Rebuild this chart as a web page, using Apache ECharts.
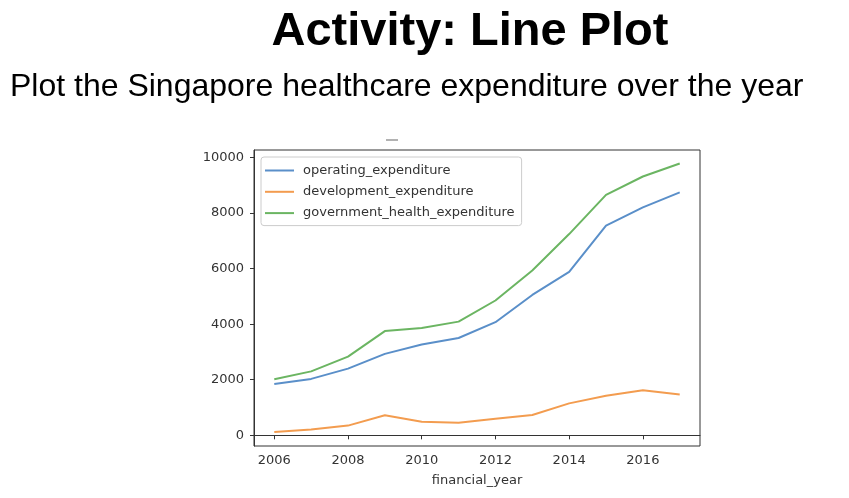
<!DOCTYPE html>
<html>
<head>
<meta charset="utf-8">
<script src="https://cdn.jsdelivr.net/npm/echarts@6/dist/echarts.min.js"></script>
<style>
  html, body { margin: 0; padding: 0; background: #fff; }
  #main { width: 849px; height: 498px; }
</style>
</head>
<body>
<div id="main"></div>
<script>
const years = [2006, 2007, 2008, 2009, 2010, 2011, 2012, 2013, 2014, 2015, 2016, 2017]
const operatingExpenditure = [1850, 2030, 2400, 2930, 3270, 3500, 4070, 5050, 5880, 7540, 8200, 8740]
const developmentExpenditure = [120, 210, 350, 720, 490, 450, 600, 730, 1150, 1420, 1620, 1470]
const governmentHealthExpenditure = [2020, 2300, 2830, 3750, 3860, 4090, 4850, 5930, 7240, 8650, 9310, 9780]
const xTicks = [2006, 2008, 2010, 2012, 2014, 2016]
const yTicks = [0, 2000, 4000, 6000, 8000, 10000]
const seriesNames = ['operating_expenditure', 'development_expenditure', 'government_health_expenditure']
const colors = ['#5a8fc9', '#f39c4f', '#6bb562']

const chart = echarts.init(document.getElementById('main'), null, { renderer: 'canvas' })

const toPoints = values => values.map((v, i) => [years[i], v])
const tickFont = { color: '#333', fontSize: 13, fontFamily: 'DejaVu Sans' }
// plain numbers, no thousands separator
const plain = v => String(v)

const option = {
  animation: false,
  color: colors,
  title: [{
    text: 'Activity: Line Plot',
    left: 465,
    top: 4,
    textAlign: 'center',
    textStyle: { fontFamily: 'Liberation Sans', fontWeight: 'bold', fontSize: 47, color: '#000' }
  }, {
    text: 'Plot the Singapore healthcare expenditure over the year',
    left: 5,
    top: 66,
    textStyle: { fontFamily: 'Liberation Sans', fontWeight: 'normal', fontSize: 32, color: '#000' }
  }],
  graphic: [{
    type: 'line',
    shape: { x1: 386, y1: 140, x2: 398, y2: 140 },
    style: { stroke: '#999', lineWidth: 1.5 }
  }],
  grid: {
    left: 254,
    right: 149,
    top: 150,
    bottom: 52,
    show: true,
    borderColor: '#333',
    borderWidth: 1
  },
  legend: {
    orient: 'vertical',
    left: 261,
    top: 157,
    data: seriesNames,
    icon: 'rect',
    itemWidth: 29,
    itemHeight: 2,
    itemGap: 6.3,
    padding: [6, 7, 5, 4],
    borderColor: '#ccc',
    borderWidth: 1,
    borderRadius: 3,
    backgroundColor: '#fff',
    textStyle: { color: '#333', fontSize: 13, fontFamily: 'DejaVu Sans', lineHeight: 15, padding: [0, 0, 0, 4] }
  },
  xAxis: {
    type: 'value',
    min: 2005.45,
    max: 2017.55,
    name: 'financial_year',
    nameLocation: 'middle',
    nameGap: 28,
    nameTextStyle: tickFont,
    splitLine: { show: false },
    axisLine: { show: true, lineStyle: { color: '#333', width: 1 } },
    axisTick: { show: true, length: 4, lineStyle: { color: '#333' }, customValues: xTicks },
    axisLabel: Object.assign({ margin: 8, customValues: xTicks, formatter: plain }, tickFont)
  },
  yAxis: {
    type: 'value',
    min: -384,
    max: 10264,
    splitLine: { show: false },
    axisLine: { show: true, lineStyle: { color: '#333', width: 1 } },
    axisTick: { show: true, length: 4, lineStyle: { color: '#333' }, customValues: yTicks },
    axisLabel: Object.assign({ margin: 10, customValues: yTicks, formatter: plain }, tickFont)
  },
  series: [{
    name: seriesNames[0],
    type: 'line',
    data: toPoints(operatingExpenditure),
    showSymbol: false,
    lineStyle: { width: 2 }
  }, {
    name: seriesNames[1],
    type: 'line',
    data: toPoints(developmentExpenditure),
    showSymbol: false,
    lineStyle: { width: 2 }
  }, {
    name: seriesNames[2],
    type: 'line',
    data: toPoints(governmentHealthExpenditure),
    showSymbol: false,
    lineStyle: { width: 2 }
  }]
}

chart.setOption(option)
</script>
</body>
</html>
